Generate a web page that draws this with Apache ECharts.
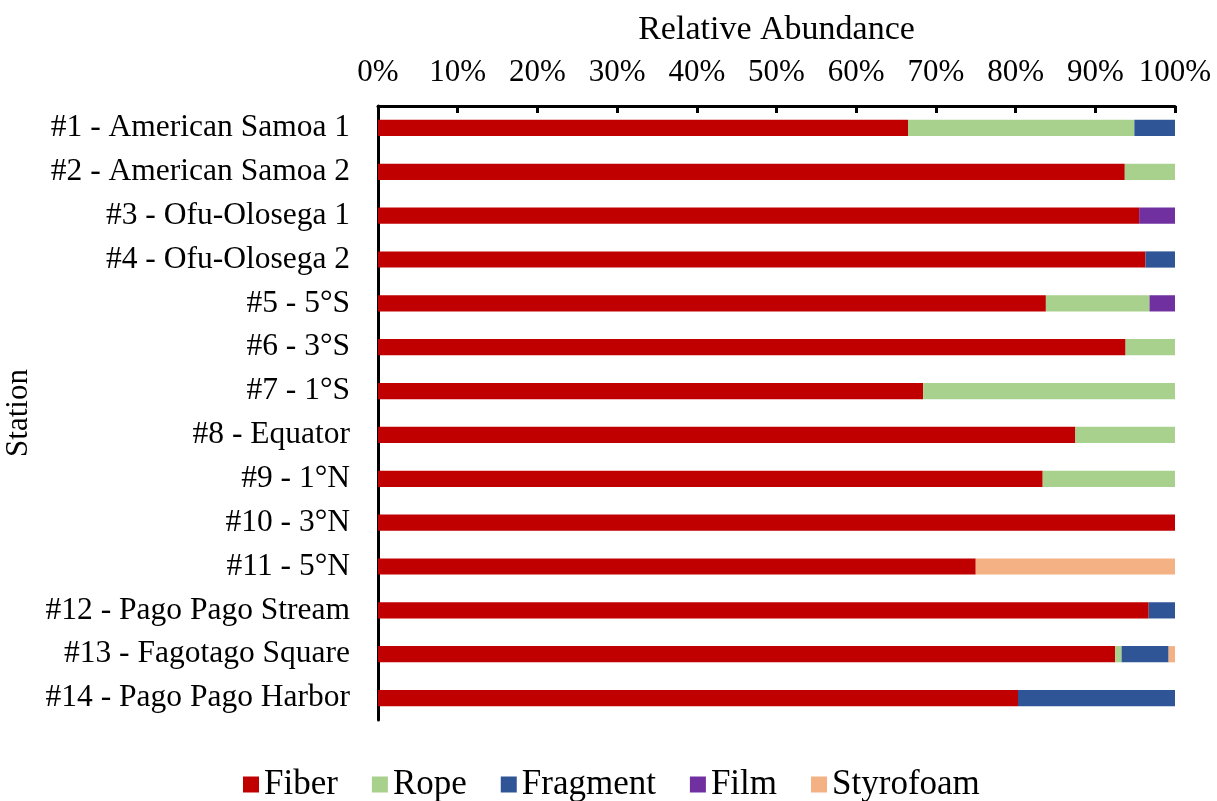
<!DOCTYPE html>
<html>
<head>
<meta charset="utf-8">
<script src="https://cdn.jsdelivr.net/npm/echarts@6/dist/echarts.min.js"></script>
<style>
  html, body { margin: 0; padding: 0; background: #fff; }
  #chart { width: 1217px; height: 801px; }
</style>
</head>
<body>
<div id="chart"></div>
<script>
// stations, top to bottom
const stations = [
  "#1 - American Samoa 1",
  "#2 - American Samoa 2",
  "#3 - Ofu-Olosega 1",
  "#4 - Ofu-Olosega 2",
  "#5 - 5°S",
  "#6 - 3°S",
  "#7 - 1°S",
  "#8 - Equator",
  "#9 - 1°N",
  "#10 - 3°N",
  "#11 - 5°N",
  "#12 - Pago Pago Stream",
  "#13 - Fagotago Square",
  "#14 - Pago Pago Harbor"
];

// relative abundance, percent
const fiber     = [66.5, 93.7, 95.5, 96.3, 83.8, 93.8, 68.4, 87.5, 83.4, 100, 75.0, 96.7, 92.5, 80.3];
const rope      = [28.4, 6.3, 0, 0, 13.0, 6.2, 31.6, 12.5, 16.6, 0, 0, 0, 0.8, 0];
const fragment  = [5.1, 0, 0, 3.7, 0, 0, 0, 0, 0, 0, 0, 3.3, 5.9, 19.7];
const film      = [0, 0, 4.5, 0, 3.2, 0, 0, 0, 0, 0, 0, 0, 0, 0];
const styrofoam = [0, 0, 0, 0, 0, 0, 0, 0, 0, 0, 25.0, 0, 0.8, 0];

const font = "Liberation Serif";

function bar(name, data, color) {
  return {
    name: name,
    type: "bar",
    stack: "total",
    barWidth: "37%",
    data: data,
    itemStyle: { color: color },
    emphasis: { disabled: true }
  };
}

const myChart = echarts.init(document.getElementById("chart"));
myChart.setOption({
  animation: false,
  textStyle: { fontFamily: font, color: "#000" },
  grid: { left: 378, right: 42, top: 106, bottom: 81, outerBoundsMode: "none", containLabel: false },
  xAxis: {
    type: "value",
    position: "top",
    min: 0,
    max: 100,
    interval: 10,
    name: "Relative Abundance",
    nameLocation: "middle",
    nameGap: 59,
    nameTextStyle: { fontFamily: font, fontSize: 34, color: "#000" },
    axisLine: { show: true, lineStyle: { color: "#000", width: 3 } },
    axisTick: { show: true, inside: true, length: 7, lineStyle: { color: "#000", width: 3 } },
    axisLabel: { formatter: "{value}%", fontFamily: font, fontSize: 31, color: "#000", margin: 18 },
    splitLine: { show: false }
  },
  yAxis: {
    type: "category",
    inverse: true,
    data: stations,
    name: "Station",
    nameLocation: "middle",
    nameGap: 324,
    nameRotate: 90,
    nameTextStyle: { fontFamily: font, fontSize: 31, color: "#000" },
    axisLine: { show: true, lineStyle: { color: "#000", width: 3 } },
    axisTick: { show: false },
    axisLabel: { fontFamily: font, fontSize: 31.5, color: "#000", margin: 28 }
  },
  legend: {
    top: 767,
    left: 243,
    padding: 0,
    itemWidth: 16,
    itemHeight: 16,
    itemGap: 34,
    icon: "rect",
    textStyle: { fontFamily: font, fontSize: 35, color: "#000" },
    data: ["Fiber", "Rope", "Fragment", "Film", "Styrofoam"]
  },
  series: [
    bar("Fiber", fiber, "#C00000"),
    bar("Rope", rope, "#A9D18E"),
    bar("Fragment", fragment, "#2F5597"),
    bar("Film", film, "#7030A0"),
    bar("Styrofoam", styrofoam, "#F4B183")
  ]
});
</script>
</body>
</html>
